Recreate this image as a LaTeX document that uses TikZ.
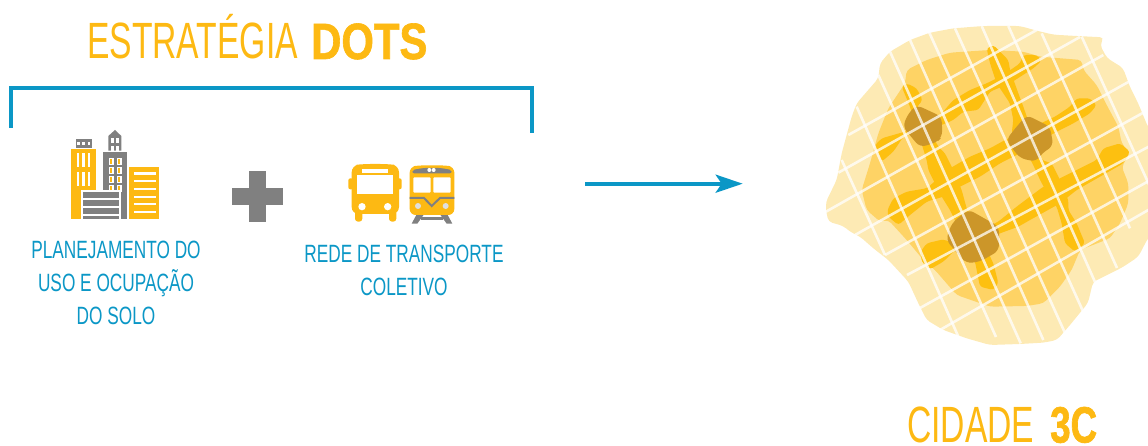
\documentclass[tikz,border=0pt]{standalone}
\usepackage{fontspec}
\usetikzlibrary{arrows.meta,positioning}
\setmainfont{Liberation Sans}
\newfontfamily\thinface[FakeStretch=0.66]{Liberation Sans}
\newfontfamily\heavyface[FakeStretch=0.82,FakeBold=1.2,UprightFont=* Bold]{Liberation Sans}
\newfontfamily\squatface[FakeStretch=0.72,FakeBold=1.2,UprightFont=* Bold]{Liberation Sans}
\newfontfamily\wideface[FakeStretch=0.69]{Liberation Sans}
\definecolor{dotsyellow}{HTML}{FDB913}
\definecolor{dotsblue}{HTML}{0B97C6}
\definecolor{dotsgray}{HTML}{808080}
\definecolor{cityouter}{HTML}{FDEAB4}
\definecolor{citymiddle}{HTML}{FED365}
\definecolor{cityroad}{HTML}{FDC010}
\definecolor{citycore}{HTML}{CC9629}
\tikzset{
  headline/.style={anchor=base west,text=dotsyellow,inner sep=0pt,font=\fontsize{51}{51}\selectfont},
  caption/.style={anchor=base,text=dotsblue,inner sep=0pt,font=\wideface\fontsize{25}{25}\selectfont},
  bracket/.style={draw=dotsblue,line width=4pt},
  road/.style={fill=cityroad,rounded corners=3pt},
  core/.style={fill=citycore,rounded corners=6pt},
  gridline/.style={draw=white,draw opacity=0.75,line width=2.6pt},
}
\begin{document}
\begin{tikzpicture}[x=1pt,y=-1pt,node distance=32.5pt]
  \useasboundingbox (0,0) rectangle (1148,446);

  % titles
  \node (title) [headline] at (87,59) {\thinface ESTRATÉGIA};
  \node (titlebold) [headline] at (311,59) {\heavyface DOTS};
  \node (city) [headline] at (907,442.5) {\thinface CIDADE};
  \node (citybold) [headline] at (1050,442.5) {\squatface 3C};

  % bracket and arrow
  \coordinate (bl) at (11,128);
  \coordinate (tl) at (11,88);
  \coordinate (tr) at (531.5,88);
  \coordinate (br) at (531.5,133);
  \draw [bracket] (bl) -- (tl) -- (tr) -- (br);

  \coordinate (from) at (585,183.7);
  \coordinate (to) at (742.7,183.7);
  \draw [dotsblue,line width=4pt,-{Stealth[length=27pt,width=18pt,inset=6pt]}] (from) -- (to);

  % captions
  \node (plan) [caption] at (116,259) {PLANEJAMENTO DO};
  \node (uso) [caption,below of=plan] {USO E OCUPAÇÃO};
  \node (solo) [caption,below of=uso] {DO SOLO};
  \node (rede) [caption] at (404,263) {REDE DE TRANSPORTE};
  \node (coletivo) [caption,below of=rede] {COLETIVO};

  % buildings
  \begin{scope}[shift={(40,110)},scale=1/3]
    \fill [dotsyellow] (93,118) rectangle (168,326);
    \foreach \x in {110,127,143} {
      \fill [white] (\x,130) rectangle +(7,42);
      \fill [white] (\x,187) rectangle +(7,41);
    }
    \fill [dotsgray] (107,87) rectangle (155,113);
    \foreach \x in {115,131,147}
      \fill [white] (\x-4,96) rectangle +(8,8);
    \fill [dotsgray] (190,126) rectangle (260,326);
    \fill [dotsgray] (205,122) -- (205,78) -- (225,60) -- (244,78) -- (244,122) -- cycle;
    \foreach \x in {214,229} {
      \fill [white] (\x,84) rectangle +(8,16);
      \fill [white] (\x,107) rectangle +(8,15);
    }
    \foreach \x in {206,230}
      \foreach \y in {143,170,197,224} {
        \fill [white] (\x,\y) rectangle +(15,22);
        \fill [dotsyellow] (\x+3,\y+3) rectangle +(8,16);
      }
    \fill [dotsyellow] (266,172) rectangle (358,326);
    \foreach \y in {187,210,233,257,279,302}
      \fill [white] (282,\y) rectangle +(65,7);
    \fill [white] (122,241) rectangle (244,330);
    \fill [dotsgray] (128,246) rectangle (237,326);
    \foreach \y in {264,288,312}
      \fill [white] (128,\y) rectangle +(109,6);
  \end{scope}

  % plus, bus and train
  \begin{scope}[shift={(220,150)},scale=1/3]
    \fill [dotsgray] (36,115) rectangle (188,165);
    \fill [dotsgray] (87,64) rectangle (137,215);

    \fill [dotsyellow,rounded corners=2pt] (385,85) rectangle (400,118);
    \fill [dotsyellow,rounded corners=2pt] (532,85) rectangle (545,118);
    \fill [dotsyellow,rounded corners=3pt] (405,180) rectangle (427,215);
    \fill [dotsyellow,rounded corners=3pt] (507,180) rectangle (529,215);
    \fill [dotsyellow,rounded corners=7pt] (395,192) -- (395,46) -- (430,42) -- (502,42) -- (537,46) -- (537,192) -- cycle;
    \fill [white] (425,58) rectangle (505,70);
    \fill [white] (411,76) rectangle (518,133);
    \fill [white] (426,170) circle (11);
    \fill [white] (503,170) circle (11);

    \fill [dotsgray] (590,193) -- (612,193) -- (592,221) -- (575,221) -- cycle;
    \fill [dotsgray] (660,193) -- (682,193) -- (697,221) -- (680,221) -- cycle;
    \fill [dotsgray] (603,201) rectangle (670,209);
    \fill [dotsyellow,rounded corners=6pt] (569,195) -- (569,50) -- (600,46) -- (672,46) -- (703,50) -- (703,195) -- cycle;
    \fill [dotsgray,rounded corners=2pt] (577,70) -- (577,60) -- (610,54) -- (662,54) -- (695,60) -- (695,70) -- cycle;
    \fill [white] (628,60) circle (6);
    \fill [white] (641,60) circle (6);
    \fill [white,rounded corners=1pt] (580,82) rectangle (632,128);
    \fill [white,rounded corners=1pt] (640,82) rectangle (692,128);
    \draw [dotsgray,line width=2pt] (569,144) -- (612,144) -- (635,168) -- (660,144) -- (703,144);
    \fill [white!75!dotsgray] (594,168) circle (9);
    \fill [white!75!dotsgray] (677,168) circle (9);
  \end{scope}

  % city
  \begin{scope}[shift={(810,20)},scale=1/3]
    \fill [cityouter,rounded corners=4pt] (48,545) -- (80,480) -- (95,400) -- (125,290) -- (140,250) -- (205,175) -- (210,130) -- (240,95) -- (300,60) -- (360,38) -- (430,25) -- (520,18) -- (630,18) -- (680,32) -- (730,44) -- (800,48) -- (882,52) -- (870,75) -- (891,114) -- (939,144) -- (960,201) -- (984,249) -- (1014,321) -- (1030,340) -- (1030,640) -- (1014,654) -- (985,710) -- (939,741) -- (849,786) -- (834,849) -- (780,915) -- (741,960) -- (700,968) -- (630,972) -- (540,975) -- (470,955) -- (400,930) -- (350,900) -- (325,850) -- (295,785) -- (235,720) -- (190,685) -- (150,650) -- (120,635) -- (100,618) -- (55,605) -- (48,570) -- cycle;
    \fill [citymiddle,rounded corners=4pt] (155,510) -- (180,430) -- (205,340) -- (235,265) -- (285,190) -- (290,150) -- (350,120) -- (420,98) -- (540,90) -- (640,95) -- (690,110) -- (815,120) -- (820,150) -- (860,195) -- (890,255) -- (925,320) -- (935,370) -- (960,400) -- (935,440) -- (955,490) -- (955,550) -- (930,610) -- (900,655) -- (810,690) -- (785,750) -- (750,800) -- (700,850) -- (650,858) -- (540,860) -- (440,825) -- (375,750) -- (340,720) -- (290,660) -- (235,600) -- (210,605) -- (170,570) -- cycle;

    % roads
    \path [road] (195,375) -- (215,355) -- (285,335) -- (395,280) -- (430,240) -- (480,210) -- (530,190) -- (580,165) -- (630,130) -- (640,105) -- (680,105) -- (695,122) -- (670,145) -- (600,190) -- (540,215) -- (505,270) -- (460,275) -- (430,300) -- (395,315) -- (280,350) -- (250,395) -- (215,425) -- cycle;
    \path [road] (232,570) -- (250,535) -- (290,515) -- (350,505) -- (420,445) -- (480,410) -- (540,385) -- (585,360) -- (735,290) -- (780,260) -- (800,235) -- (840,235) -- (860,255) -- (840,280) -- (790,310) -- (740,335) -- (620,405) -- (570,430) -- (510,470) -- (450,500) -- (400,530) -- (350,545) -- (300,585) -- (265,615) -- (235,590) -- cycle;
    \path [road] (332,695) -- (350,670) -- (400,658) -- (430,670) -- (565,605) -- (620,560) -- (700,500) -- (800,450) -- (860,420) -- (880,385) -- (930,370) -- (960,395) -- (940,430) -- (870,470) -- (800,510) -- (750,550) -- (660,600) -- (625,620) -- (570,640) -- (430,695) -- (400,725) -- (360,748) -- (335,725) -- cycle;
    \path [road] (275,200) -- (290,190) -- (320,205) -- (338,240) -- (320,262) -- (385,380) -- (405,400) -- (430,450) -- (455,510) -- (470,565) -- (550,730) -- (565,790) -- (550,810) -- (510,800) -- (495,725) -- (420,570) -- (395,530) -- (355,450) -- (350,420) -- (300,260) -- cycle;
    \path [road] (530,85) -- (550,75) -- (595,120) -- (600,150) -- (625,220) -- (640,260) -- (695,420) -- (725,430) -- (750,480) -- (775,540) -- (775,570) -- (800,610) -- (825,670) -- (795,695) -- (765,670) -- (755,610) -- (740,560) -- (695,490) -- (665,425) -- (605,340) -- (610,300) -- (600,250) -- (560,190) -- (540,130) -- cycle;

    \path [core] (320,255) -- (395,290) -- (397,350) -- (380,367) -- (330,382) -- (278,320) -- (295,280) -- cycle;
    \path [core] (650,285) -- (720,320) -- (730,378) -- (695,400) -- (680,425) -- (630,415) -- (588,360) -- (620,320) -- cycle;
    \path [core] (475,568) -- (567,620) -- (567,692) -- (510,725) -- (468,730) -- (408,660) -- (425,610) -- cycle;

    % grid over the city
    \draw [gridline] (115,345) -- (680,30);
    \draw [gridline] (85,458) -- (810,51);
    \draw [gridline] (48,575) -- (880,105);
    \draw [gridline] (135,645) -- (955,186);
    \draw [gridline] (225,705) -- (1020,267);
    \draw [gridline] (291,765) -- (1020,378);
    \draw [gridline] (330,864) -- (1020,481);
    \draw [gridline] (390,930) -- (1020,567);

    \draw [gridline] (95,420) -- (225,705);
    \draw [gridline] (140,260) -- (445,950);
    \draw [gridline] (205,165) -- (558,951);
    \draw [gridline] (240,95) -- (632,970);
    \draw [gridline] (300,60) -- (700,960);
    \draw [gridline] (358,38) -- (765,939);
    \draw [gridline] (435,25) -- (820,876);
    \draw [gridline] (515,18) -- (855,786);
    \draw [gridline] (595,18) -- (921,744);
    \draw [gridline] (695,40) -- (960,625);
    \draw [gridline] (815,50) -- (1020,500);
  \end{scope}
\end{tikzpicture}
\end{document}
